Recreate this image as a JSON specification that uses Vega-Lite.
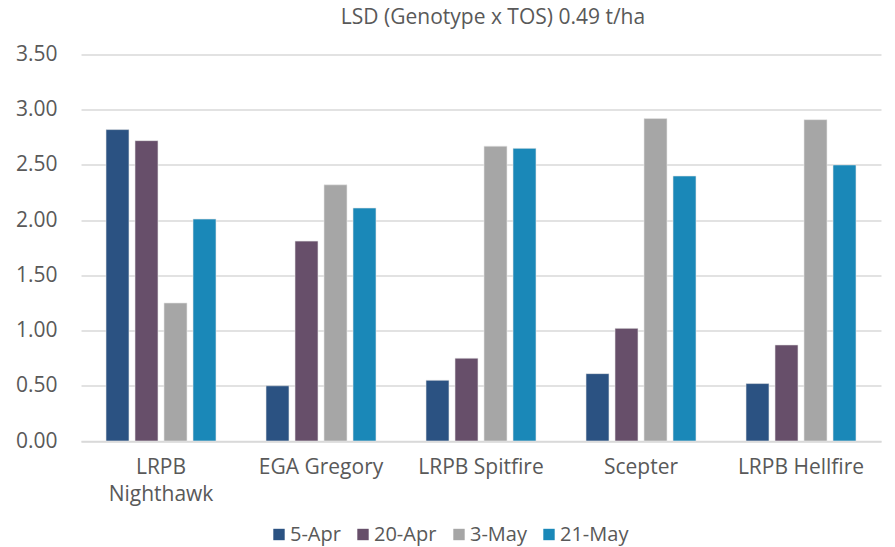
{
  "$schema": "https://vega.github.io/schema/vega-lite/v6.json",
  "autosize": "none",
  "padding": {"left": 81, "top": 54.5, "right": 14, "bottom": 106},
  "width": 800,
  "height": 386.5,
  "background": "white",
  "title": {
    "text": "LSD (Genotype x TOS) 0.49 t/ha",
    "fontSize": 21,
    "font": "Open Sans",
    "fontWeight": "normal",
    "color": "#595959",
    "anchor": "middle",
    "dx": 12,
    "offset": 16
  },
  "data": {
    "values": [
      {"variety": "LRPB Nighthawk", "tos": "5-Apr", "yield": 2.82},
      {"variety": "LRPB Nighthawk", "tos": "20-Apr", "yield": 2.72},
      {"variety": "LRPB Nighthawk", "tos": "3-May", "yield": 1.25},
      {"variety": "LRPB Nighthawk", "tos": "21-May", "yield": 2.01},
      {"variety": "EGA Gregory", "tos": "5-Apr", "yield": 0.50},
      {"variety": "EGA Gregory", "tos": "20-Apr", "yield": 1.81},
      {"variety": "EGA Gregory", "tos": "3-May", "yield": 2.32},
      {"variety": "EGA Gregory", "tos": "21-May", "yield": 2.11},
      {"variety": "LRPB Spitfire", "tos": "5-Apr", "yield": 0.55},
      {"variety": "LRPB Spitfire", "tos": "20-Apr", "yield": 0.75},
      {"variety": "LRPB Spitfire", "tos": "3-May", "yield": 2.67},
      {"variety": "LRPB Spitfire", "tos": "21-May", "yield": 2.65},
      {"variety": "Scepter", "tos": "5-Apr", "yield": 0.61},
      {"variety": "Scepter", "tos": "20-Apr", "yield": 1.02},
      {"variety": "Scepter", "tos": "3-May", "yield": 2.92},
      {"variety": "Scepter", "tos": "21-May", "yield": 2.40},
      {"variety": "LRPB Hellfire", "tos": "5-Apr", "yield": 0.52},
      {"variety": "LRPB Hellfire", "tos": "20-Apr", "yield": 0.87},
      {"variety": "LRPB Hellfire", "tos": "3-May", "yield": 2.91},
      {"variety": "LRPB Hellfire", "tos": "21-May", "yield": 2.50}
    ]
  },
  "mark": {"type": "bar", "stroke": "#E8E8E8", "strokeWidth": 0.6},
  "encoding": {
    "x": {
      "field": "variety",
      "type": "nominal",
      "sort": ["LRPB Nighthawk", "EGA Gregory", "LRPB Spitfire", "Scepter", "LRPB Hellfire"],
      "scale": {"paddingInner": 0.3125, "paddingOuter": 0.15625},
      "axis": {
        "title": null,
        "labelAngle": 0,
        "labelFontSize": 21,
        "labelFont": "Open Sans",
        "labelColor": "#595959",
        "labelPadding": 15,
        "labelLineHeight": 27,
        "labelExpr": "datum.label == 'LRPB Nighthawk' ? ['LRPB', 'Nighthawk'] : datum.label",
        "ticks": false,
        "domainColor": "#D9D9D9",
        "domainWidth": 1.5
      }
    },
    "xOffset": {
      "field": "tos",
      "type": "nominal",
      "sort": ["5-Apr", "20-Apr", "3-May", "21-May"],
      "scale": {"paddingInner": 0.207, "paddingOuter": 0}
    },
    "y": {
      "field": "yield",
      "type": "quantitative",
      "scale": {"domain": [0, 3.5], "nice": false},
      "axis": {
        "title": null,
        "values": [0, 0.5, 1, 1.5, 2, 2.5, 3, 3.5],
        "format": ".2f",
        "labelFontSize": 21,
        "labelFont": "Open Sans",
        "labelColor": "#595959",
        "labelPadding": 24,
        "ticks": false,
        "domain": false,
        "gridColor": "#D9D9D9",
        "gridWidth": 1.5
      }
    },
    "color": {
      "field": "tos",
      "type": "nominal",
      "sort": ["5-Apr", "20-Apr", "3-May", "21-May"],
      "scale": {
        "domain": ["5-Apr", "20-Apr", "3-May", "21-May"],
        "range": ["#2B5282", "#674F6A", "#A6A6A6", "#1A88B8"]
      },
      "legend": {
        "title": null,
        "orient": "none",
        "direction": "horizontal",
        "legendX": 188,
        "legendY": 470,
        "symbolType": "square",
        "symbolSize": 130,
        "symbolStrokeWidth": 0,
        "labelFontSize": 20,
        "labelFont": "Open Sans",
        "labelColor": "#595959",
        "labelOffset": 1,
        "columnPadding": 12
      }
    }
  },
  "config": {"view": {"stroke": null}}
}
